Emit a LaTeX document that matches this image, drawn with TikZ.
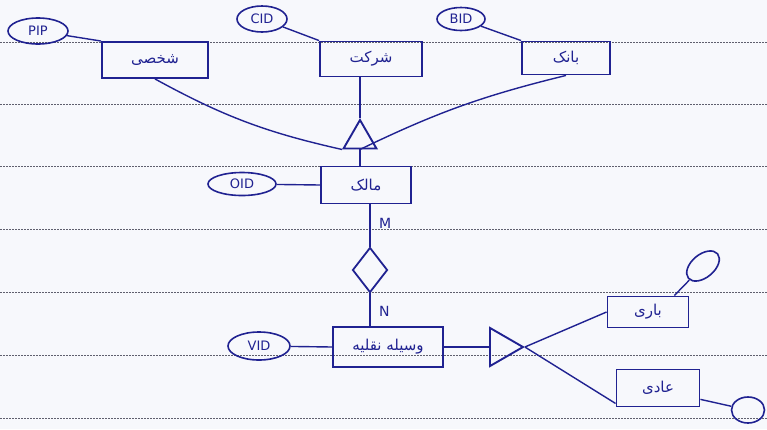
\documentclass[tikz,border=0pt]{standalone}
\usepackage{fontspec}
\setmainfont{DejaVu Sans}
\newfontfamily\farsi[Script=Arabic]{DejaVu Sans}
\TeXXeTstate=1
\usetikzlibrary{shapes.geometric,calc}
\definecolor{ink}{RGB}{32,34,145}
\definecolor{paper}{RGB}{247,248,252}
\definecolor{rule}{RGB}{95,95,110}
\newcommand{\fa}[1]{{\farsi\beginR #1\endR}}

\begin{document}
\begin{tikzpicture}[x=1pt,y=-1pt,
  entity/.style={draw=ink,line width=1.9pt,rectangle,inner sep=0pt,text=ink,font=\fontsize{15}{17}\selectfont},
  attr/.style={draw=ink,line width=1.6pt,ellipse,inner sep=0pt,text=ink,font=\fontsize{13}{15}\selectfont},
  isa/.style={draw=ink,line width=1.9pt,regular polygon,regular polygon sides=3,inner sep=0pt},
  rel/.style={draw=ink,line width=1.8pt,diamond,inner sep=0pt},
  link/.style={ink,line width=1.4pt},
  card/.style={text=ink,font=\fontsize{14}{16}\selectfont}]
  \useasboundingbox[fill=paper] (0,0) rectangle (767,429);
  % ruled lines of the page
  \foreach \y in {42,104,166,229,292,355,418}
    \draw[rule,line width=0.8pt,dash pattern=on 1.8pt off 1.2pt] (0,\y) -- (767,\y);

  % owner subtypes
  \node[entity,minimum width=106,minimum height=36] (personal) at (155,60) {\fa{شخصی}};
  \node[entity,minimum width=102,minimum height=35] (company) at (371,59) {\fa{شرکت}};
  \node[entity,minimum width=88,minimum height=33] (bank) at (566,58) {\fa{بانک}};
  \node[attr,minimum width=60,minimum height=26] (pid) at (38,31) {PIP};
  \node[attr,minimum width=50,minimum height=26] (cid) at (262,19) {CID};
  \node[attr,minimum width=48,minimum height=23] (bid) at (461,19) {BID};
  \draw[link] (pid) -- (personal.north west);
  \draw[link] (cid) -- (company.north west);
  \draw[link] (bid) -- (bank.north west);

  % generalisation into owner
  \node[isa,minimum size=38] (isaTop) at (360,139) {};
  \draw[link] (personal.south) to[bend right=8] (isaTop.corner 2);
  \draw[link] (bank.south) to[bend right=6] (isaTop.side 2);
  \draw[link] (isaTop.corner 1 |- company.south) -- (isaTop.corner 1);

  \node[entity,minimum width=90,minimum height=37] (owner) at (366,185) {\fa{مالک}};
  \node[attr,minimum width=68,minimum height=23] (oid) at (242,184) {OID};
  \draw[link] (isaTop.south) -- (isaTop.south |- owner.north);
  \draw[link] (oid) -- (owner.west);

  % relationship
  \node[rel,minimum width=35,minimum height=45] (owns) at (370,270) {};
  \draw[link] (owns.north |- owner.south) -- (owns.north) node[card,pos=0.45,right=5pt] {M};
  \draw[link] (owns.south) -- (owns.south |- 0,327) node[card,pos=0.55,right=5pt] {N};

  \node[entity,minimum width=110,minimum height=40] (vehicle) at (388,347) {\fa{وسیله نقلیه}};
  \node[attr,minimum width=62,minimum height=28] (vid) at (259,346) {VID};
  \draw[link] (vid) -- (vehicle.west);

  % vehicle subtypes
  \node[isa,minimum size=44,shape border rotate=-90] (isaRight) at (501,347) {};
  \draw[ink,line width=2.4pt] (vehicle.east) -- (isaRight.west);
  \node[entity,minimum width=81,minimum height=31] (cargo) at (648,312) {\fa{باری}};
  \node[entity,minimum width=83,minimum height=37] (normal) at (658,388) {\fa{عادی}};
  \draw[link] (isaRight.corner 1) -- (cargo.west);
  \draw[link] (isaRight.corner 1) -- (normal.200);
  \node[attr,minimum width=38,minimum height=23,rotate=40] (cargoAttr) at (703,266) {};
  \node[attr,minimum width=33,minimum height=26] (normalAttr) at (748,410) {};
  \draw[link] (cargoAttr) -- (cargo.32);
  \draw[link] (normal.-15) -- (normalAttr);
\end{tikzpicture}
\end{document}
